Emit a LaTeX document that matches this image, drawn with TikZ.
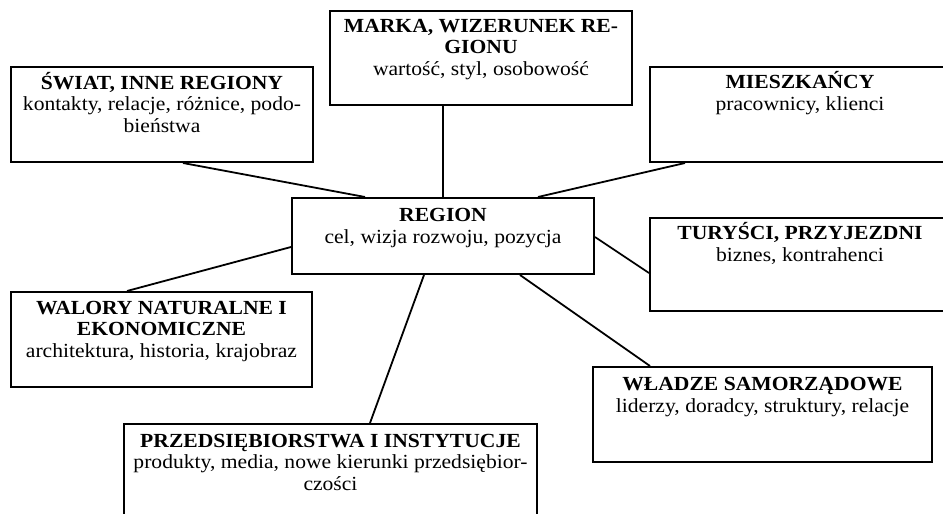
\documentclass[tikz,border=0pt]{standalone}
\usepackage{fontspec}
\setmainfont[FakeStretch=1.08]{Liberation Serif}
\usetikzlibrary{calc}
\tikzset{
  box/.style={draw, line width=2pt, rectangle, inner sep=0pt},
  txt/.style={inner sep=0pt, align=center, font=\fontsize{20}{21.5}\selectfont, anchor=base},
  link/.style={line width=1.8pt},
}
\newcommand{\ttl}[1]{\textbf{#1}}
\begin{document}
\begin{tikzpicture}[x=1pt,y=-1pt]
\clip (0,0) rectangle (943,514);
\fill[white] (0,0) rectangle (943,514);
% boxes
\node[box, minimum width=302pt, minimum height=95pt] (swiat) at (162,114.5) {};
\node[box, minimum width=302pt, minimum height=94pt] (marka) at (481,58) {};
\node[box, minimum width=300pt, minimum height=95pt] (miesz) at (800,114.5) {};
\node[box, minimum width=302pt, minimum height=76pt] (region) at (443,236) {};
\node[box, minimum width=300pt, minimum height=93pt] (tur) at (800,264.5) {};
\node[box, minimum width=301pt, minimum height=95pt] (walory) at (161.5,339.5) {};
\node[box, minimum width=339pt, minimum height=95pt] (wladze) at (762.5,414.5) {};
\node[box, minimum width=413pt, minimum height=110pt] (prz) at (330.5,479) {};
% texts (base = baseline of the last line)
\node[txt] (swiatT) at ([yshift=-66pt]swiat.north) {\ttl{ŚWIAT, INNE REGIONY}\\kontakty, relacje, różnice, podo-\\bieństwa};
\node[txt] (markaT) at ([yshift=-65pt]marka.north) {\ttl{MARKA, WIZERUNEK RE-}\\\ttl{GIONU}\\wartość, styl, osobowość};
\node[txt] (mieszT) at ([yshift=-44pt]miesz.north) {\ttl{MIESZKAŃCY}\\pracownicy, klienci};
\node[txt] (regionT) at ([yshift=-46pt]region.north) {\ttl{REGION}\\cel, wizja rozwoju, pozycja};
\node[txt] (turT) at ([yshift=-44pt]tur.north) {\ttl{TURYŚCI, PRZYJEZDNI}\\biznes, kontrahenci};
\node[txt] (waloryT) at ([yshift=-66pt]walory.north) {\ttl{WALORY NATURALNE I}\\\ttl{EKONOMICZNE}\\architektura, historia, krajobraz};
\node[txt] (wladzeT) at ([yshift=-46pt]wladze.north) {\ttl{WŁADZE SAMORZĄDOWE}\\liderzy, doradcy, struktury, relacje};
\node[txt] (przT) at ([yshift=-67pt]prz.north) {\ttl{PRZEDSIĘBIORSTWA I INSTYTUCJE}\\produkty, media, nowe kierunki przedsiębior-\\czości};
% connectors
\draw[link] (region.north) -- (region.north |- marka.south);
\draw[link] ([xshift=21pt]swiat.south) -- ([xshift=-78pt]region.north);
\draw[link] ([xshift=-115pt]miesz.south) -- ([xshift=95pt]region.north);
\draw[link] ([yshift=-1pt]region.east) -- ([yshift=-8.5pt]tur.west);
\draw[link] ([xshift=77pt]region.south) -- ([xshift=-112.5pt]wladze.north);
\draw[link] ([xshift=-19pt]region.south) -- ([xshift=39.5pt]prz.north);
\draw[link] ([yshift=-11pt]region.west) -- ([xshift=-34.5pt]walory.north);
\end{tikzpicture}
\end{document}
